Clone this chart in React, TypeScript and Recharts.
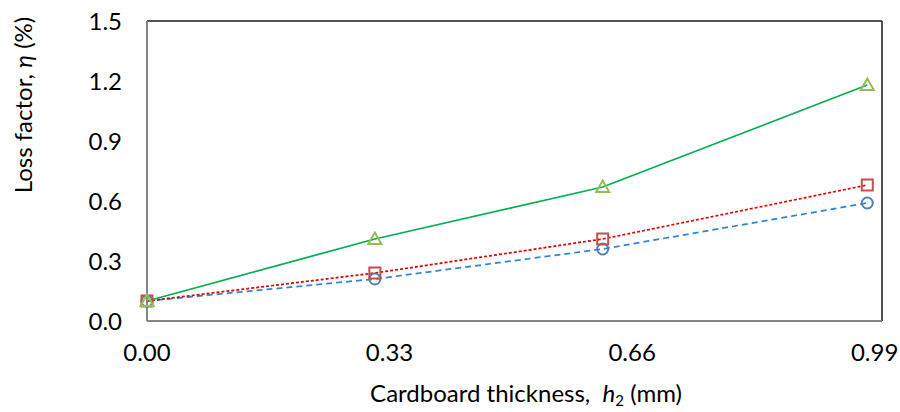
import { Line, LineChart, ReferenceLine, XAxis, YAxis } from "recharts";

// cardboard thickness h2 (mm) where each loss factor was measured
const thickness = [0, 0.31, 0.62, 0.98];
const circleSeries = [0.1, 0.21, 0.36, 0.59];
const squareSeries = [0.1, 0.24, 0.41, 0.68];
const triangleSeries = [0.1, 0.41, 0.67, 1.18];

const xTicks = [0, 0.33, 0.66, 0.99];
const yTicks = [0, 0.3, 0.6, 0.9, 1.2, 1.5];

const rows = thickness.map((x, i) => ({
  x,
  circle: circleSeries[i],
  square: squareSeries[i],
  triangle: triangleSeries[i],
}));

const font = "Lato, 'Open Sans', sans-serif";
const tickStyle = { fontSize: 24, fill: "#000", fontFamily: font };

const CircleDot = (props: any) => {
  const { cx, cy } = props;
  return (
    <circle cx={cx} cy={cy} r={5.5} fill="none" stroke="#4f81bd" strokeWidth={2} />
  );
};

const SquareDot = (props: any) => {
  const { cx, cy } = props;
  return (
    <rect
      x={cx - 5.5}
      y={cy - 5.5}
      width={11}
      height={11}
      fill="none"
      stroke="#c0504d"
      strokeWidth={2}
    />
  );
};

const TriangleDot = (props: any) => {
  const { cx, cy } = props;
  return (
    <path
      d={`M${cx},${cy - 6.5} L${cx + 6.5},${cy + 5} L${cx - 6.5},${cy + 5} Z`}
      fill="none"
      stroke="#9bbb59"
      strokeWidth={2}
    />
  );
};

export default function App() {
  return (
    <div style={{ position: "absolute", left: 0, top: 0, width: 900, height: 412 }}>
      <LineChart
        width={900}
        height={412}
        data={rows}
        margin={{ top: 21, right: 18, bottom: 0, left: 0 }}
      >
        <XAxis
          dataKey="x"
          type="number"
          domain={[0, 1]}
          ticks={xTicks}
          tickFormatter={(v: number) => v.toFixed(2)}
          tick={tickStyle}
          tickLine={false}
          tickSize={0}
          tickMargin={23}
          height={91}
          axisLine={{ stroke: "#868686", strokeWidth: 2 }}
          label={{
            content: () => (
              <text
                x={526}
                y={402}
                textAnchor="middle"
                fontSize={24}
                fontFamily={font}
                fill="#000"
              >
                Cardboard thickness,{"\u00a0\u00a0"}
                <tspan fontStyle="italic">h</tspan>
                <tspan fontSize={15} dy={4}>2</tspan>
                <tspan dy={-4}> (mm)</tspan>
              </text>
            ),
          }}
        />
        <YAxis
          type="number"
          domain={[0, 1.5]}
          ticks={yTicks}
          tickFormatter={(v: number) => v.toFixed(1)}
          tick={tickStyle}
          tickLine={false}
          tickSize={0}
          tickMargin={25}
          width={147}
          axisLine={{ stroke: "#868686", strokeWidth: 2 }}
          label={{
            content: () => (
              <text
                x={32}
                y={105}
                transform="rotate(-90 32 105)"
                textAnchor="middle"
                fontSize={24}
                fontFamily={font}
                fill="#000"
              >
                Loss factor, <tspan fontStyle="italic">η</tspan> (%)
              </text>
            ),
          }}
        />
        {/* frame: top and right edges of the plot area */}
        <ReferenceLine y={1.5} stroke="#1a1a1a" strokeWidth={1.5} ifOverflow="visible" />
        <ReferenceLine x={1} stroke="#1a1a1a" strokeWidth={1.5} ifOverflow="visible" />
        <Line
          dataKey="circle"
          stroke="#2e86d4"
          strokeWidth={1.75}
          strokeDasharray="6 4"
          dot={<CircleDot />}
          activeDot={false}
          isAnimationActive={false}
        />
        <Line
          dataKey="square"
          stroke="#e00000"
          strokeWidth={1.75}
          strokeDasharray="3 2"
          dot={<SquareDot />}
          activeDot={false}
          isAnimationActive={false}
        />
        <Line
          dataKey="triangle"
          stroke="#00b050"
          strokeWidth={1.75}
          dot={<TriangleDot />}
          activeDot={false}
          isAnimationActive={false}
        />
      </LineChart>
    </div>
  );
}
